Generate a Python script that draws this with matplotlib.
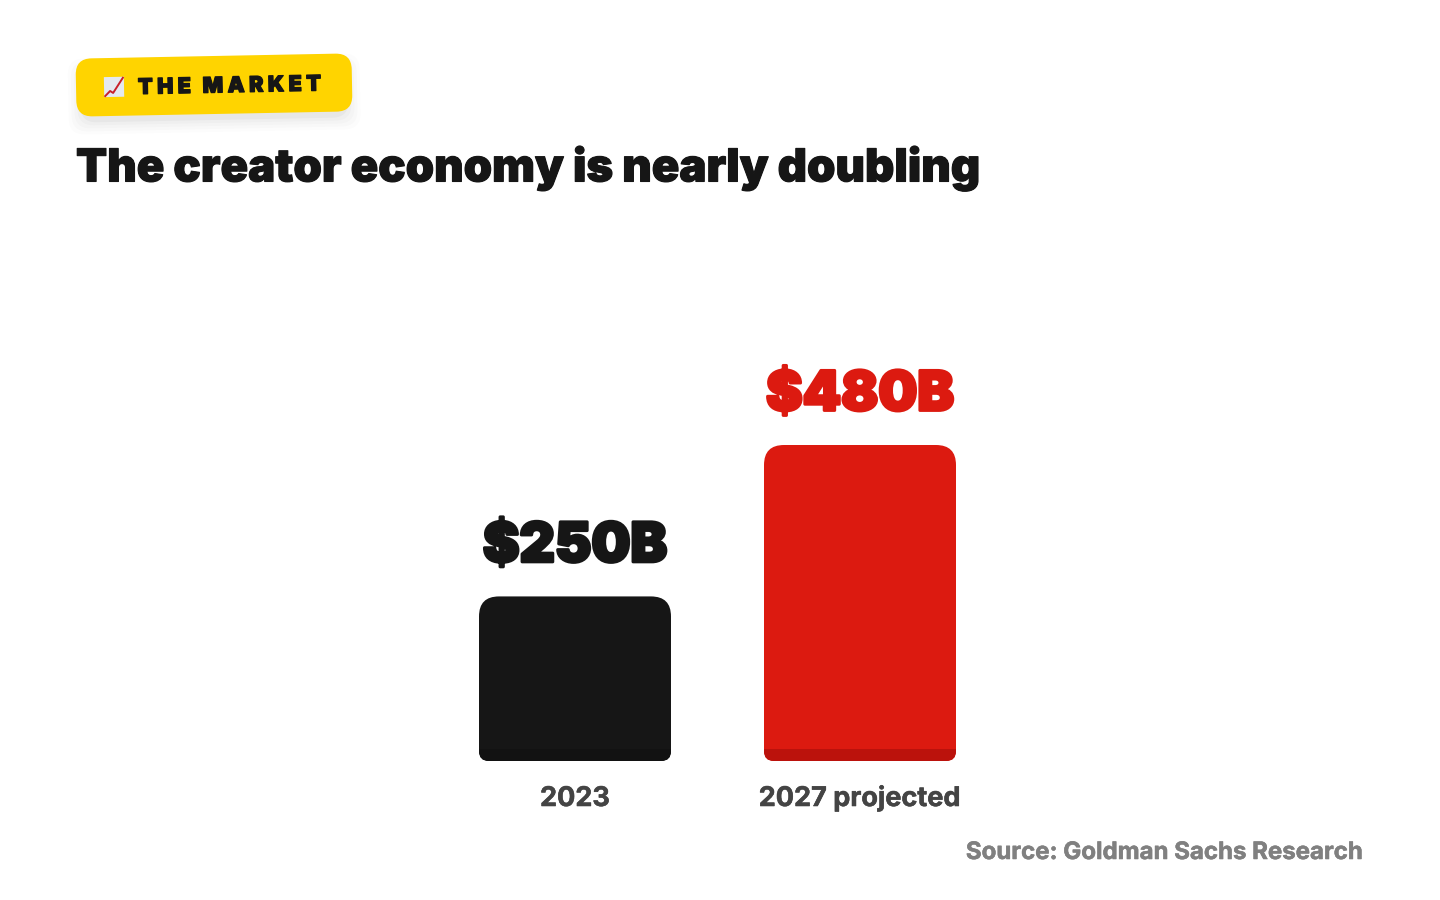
import matplotlib
matplotlib.use("Agg")
import matplotlib.pyplot as plt
import matplotlib.patheffects as pe
from matplotlib.patches import FancyBboxPatch, Rectangle
from matplotlib.path import Path
from matplotlib.transforms import Affine2D, IdentityTransform
from matplotlib.lines import Line2D

categories = ["2023", "2027 projected"]
values = [250, 480]
bar_colors = ["#161616", "#dc1a10"]
base_colors = ["#121212", "#bb120c"]
title = "The creator economy is nearly doubling"
badge_text = "THE MARKET"
source = "Source: Goldman Sachs Research"

W, H = 1440, 900
FONT = ["Inter", "Open Sans", "DejaVu Sans"]
plt.rcParams["font.family"] = FONT

fig = plt.figure(figsize=(14.4, 9), dpi=100, facecolor="white")

# axes box in pixels: baseline at y=761, 316 px for 480
px_per_unit = 316 / 480
ax_top = 220
ax = fig.add_axes([0, (H - 761) / H, 1, (761 - ax_top) / H])
ax.set_xlim(-575 / 285, (W - 575) / 285)
ax.set_ylim(0, (761 - ax_top) / px_per_unit)
for s in ax.spines.values():
    s.set_visible(False)
ax.set_yticks([])
x = list(range(len(categories)))
ax.set_xticks(x, categories, fontsize=19.5, fontweight="bold", color="#444444")
ax.tick_params(axis="x", length=0, pad=18)
for lab in ax.get_xticklabels():
    lab.set_path_effects([pe.withStroke(linewidth=0.4, foreground="#444444")])

bar_w = 192 / 285
bars = ax.bar(x, values, width=bar_w, color=bar_colors, linewidth=0, zorder=2)
# darker strip along the bottom of each bar
strip = ax.bar(x, [12 / px_per_unit] * 2, width=bar_w, color=base_colors, linewidth=0, zorder=3)


def rounded_path(b, rt=20, rb=10):
    x0, y0, x1, y1 = b.x0, b.y0, b.x1, b.y1
    verts = [(x0 + rb, y0), (x1 - rb, y0), (x1, y0), (x1, y0 + rb),
             (x1, y1 - rt), (x1, y1), (x1 - rt, y1),
             (x0 + rt, y1), (x0, y1), (x0, y1 - rt),
             (x0, y0 + rb), (x0, y0), (x0 + rb, y0), (x0 + rb, y0)]
    codes = [Path.MOVETO, Path.LINETO, Path.CURVE3, Path.CURVE3,
             Path.LINETO, Path.CURVE3, Path.CURVE3,
             Path.LINETO, Path.CURVE3, Path.CURVE3,
             Path.LINETO, Path.CURVE3, Path.CURVE3, Path.CLOSEPOLY]
    return Path(verts, codes)


fig.canvas.draw()
for bar, st in zip(bars, strip):
    p = rounded_path(bar.get_window_extent())
    bar.set_clip_path(p, IdentityTransform())
    st.set_clip_path(p, IdentityTransform())

labels = ax.bar_label(bars, labels=[f"${v}B" for v in values], padding=17,
                      fontsize=39.5, fontweight="black")
for t, c in zip(labels, bar_colors):
    t.set_color(c)
    t.set_path_effects([pe.withStroke(linewidth=2.2, foreground=c)])

# badge, tilted about 1 degree, in pixel coordinates (y down)
cx, cy = 214, 84.5
tilt = Affine2D().rotate_deg_around(cx, cy, -1.1).scale(1, -1).translate(0, H)
for grow, a in [(12, 0.012), (9, 0.014), (6, 0.016), (3, 0.02), (0, 0.03)]:
    fig.add_artist(FancyBboxPatch((80 - grow, 68 - grow), 268 + 2 * grow, 52 + 2 * grow,
                                  boxstyle="round,pad=0,rounding_size=16", fc="black", ec="none",
                                  alpha=a, transform=tilt))
fig.add_artist(FancyBboxPatch((76, 56), 276, 58, boxstyle="round,pad=0,rounding_size=16",
                              fc="#ffd400", ec="none", transform=tilt))
# chart emoji
fig.add_artist(Rectangle((104, 75), 20, 20, fc="#e4e9f0", ec="none", transform=tilt))
fig.add_artist(Line2D([105, 110, 113, 117, 123], [94, 89, 91, 85, 76], color="#c8202a", lw=1.4,
                      transform=tilt))
fig.text(0, 0, "\u200a\u200a\u200a".join(badge_text).replace("\u200a \u200a", "\u200a "),
         fontsize=15.5, fontweight="black", color="#161616", ha="left", va="center",
         rotation=1.1, rotation_mode="anchor",
         transform=Affine2D().translate(138, H - 88),
         path_effects=[pe.withStroke(linewidth=0.9, foreground="#161616")])

fig.text(76 / W, 1 - 181.5 / H, title, fontsize=32.75, fontweight="black", color="#161616",
         ha="left", va="baseline", path_effects=[pe.withStroke(linewidth=0.8, foreground="#161616")])
fig.text(1364 / W, 1 - 853 / H, source, fontsize=17.3, fontweight="bold", color="#808080",
         ha="right", va="center", path_effects=[pe.withStroke(linewidth=0.4, foreground="#808080")])

fig.savefig("out.png", dpi=100)
